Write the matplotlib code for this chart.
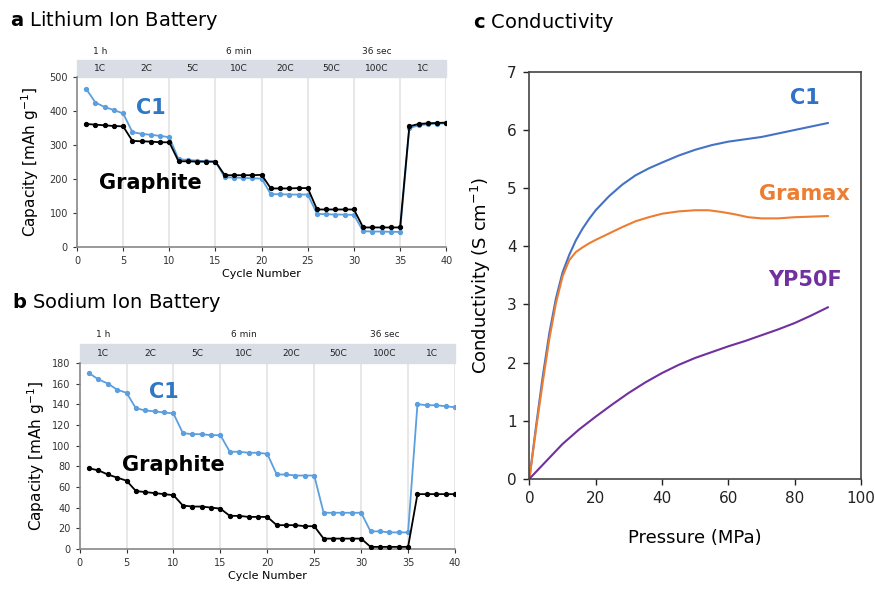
import matplotlib.pyplot as plt
import matplotlib.transforms as mtransforms
from matplotlib.patches import Rectangle

# rate capability data (cycle number 1..40)
cycles = list(range(1, 41))

li_c1 = [465, 425, 412, 403, 393, 338, 333, 330, 327, 323,
         258, 256, 254, 252, 251, 205, 204, 203, 202, 201,
         155, 155, 154, 154, 154, 97, 96, 95, 95, 94,
         46, 45, 45, 44, 44, 350, 358, 361, 363, 364]
li_graphite = [362, 360, 358, 356, 355, 312, 311, 310, 308, 308,
               252, 252, 251, 251, 251, 211, 211, 211, 211, 212,
               172, 172, 172, 173, 173, 110, 110, 110, 110, 110,
               57, 57, 57, 57, 57, 355, 362, 364, 365, 366]

na_c1 = [170, 164, 160, 154, 151, 136, 134, 133, 132, 131,
         112, 111, 111, 110, 110, 94, 94, 93, 93, 92,
         72, 72, 71, 71, 71, 35, 35, 35, 35, 35,
         17, 17, 16, 16, 16, 140, 139, 139, 138, 137]
na_graphite = [78, 76, 72, 69, 66, 56, 55, 54, 53, 52,
               42, 41, 41, 40, 39, 32, 32, 31, 31, 31,
               23, 23, 23, 22, 22, 10, 10, 10, 10, 10,
               2, 2, 2, 2, 2, 53, 53, 53, 53, 53]

rate_labels = ["1C", "2C", "5C", "10C", "20C", "50C", "100C", "1C"]
time_labels = ["1 h", "6 min", "36 sec"]

# conductivity vs pressure
c1_p = [0, 2, 4, 6, 8, 10, 12, 14, 16, 18, 20, 24, 28, 32, 36, 40,
        45, 50, 55, 60, 65, 70, 75, 80, 85, 90]
c1_s = [0, 0.9, 1.75, 2.5, 3.1, 3.55, 3.85, 4.1, 4.3, 4.47, 4.62, 4.86,
        5.06, 5.22, 5.34, 5.44, 5.56, 5.66, 5.74, 5.8, 5.84, 5.88, 5.94,
        6.0, 6.06, 6.12]
gramax_p = [0, 2, 4, 6, 8, 10, 12, 14, 16, 18, 20, 24, 28, 32, 36, 40,
            45, 50, 54, 58, 62, 66, 70, 75, 80, 85, 90]
gramax_s = [0, 0.85, 1.65, 2.4, 3.02, 3.48, 3.76, 3.9, 3.98, 4.05, 4.11,
            4.22, 4.33, 4.43, 4.5, 4.56, 4.6, 4.62, 4.62, 4.59, 4.55, 4.5,
            4.48, 4.48, 4.5, 4.51, 4.52]
yp_p = [0, 5, 10, 15, 20, 25, 30, 35, 40, 45, 50, 55, 60, 65, 70, 75, 80, 85, 90]
yp_s = [0, 0.3, 0.6, 0.85, 1.07, 1.28, 1.48, 1.66, 1.82, 1.96, 2.08, 2.18,
        2.28, 2.37, 2.47, 2.57, 2.68, 2.81, 2.95]

C1_LIGHT = "#5B9FDF"
C1_TEXT = "#2F78C4"
GRID = "#E3E3E3"
BAND = "#D8DDE6"


def rate_panel(ax, c1, graphite, ymax, ystep, c1_xy, gr_xy, ylabel_pad):
    for x in range(5, 41, 5):
        ax.axvline(x, color=GRID, lw=1.2, zorder=0)
    ax.plot(cycles, c1, "-o", color=C1_LIGHT, ms=2.8, lw=1.3, zorder=3)
    ax.plot(cycles, graphite, "-o", color="black", ms=2.8, lw=1.3, zorder=4)
    ax.set_xlim(0, 40)
    ax.set_ylim(0, ymax)
    ax.set_xticks(range(0, 41, 5))
    ax.set_yticks(range(0, ymax + 1, ystep))
    ax.tick_params(labelsize=7, colors="#333333", length=3, width=0.8)
    for s in ["top", "right"]:
        ax.spines[s].set_visible(False)
    for s in ["left", "bottom"]:
        ax.spines[s].set_color("#888888")
        ax.spines[s].set_linewidth(1.2)
    ax.set_xlabel("Cycle Number", fontsize=8, labelpad=2)
    ax.set_ylabel("Capacity [mAh g$^{\\mathregular{-1}}$]", fontsize=11,
                  labelpad=ylabel_pad)

    trans = mtransforms.blended_transform_factory(ax.transData, ax.transAxes)
    ax.add_patch(Rectangle((0, 1.0), 40, 0.1, transform=trans, color=BAND,
                           clip_on=False, zorder=1))
    for i, lab in enumerate(rate_labels):
        ax.text(5 * i + 2.5, 1.05, lab, transform=trans, ha="center",
                va="center", fontsize=6.5, color="#222222")
    for i, lab in enumerate(time_labels):
        ax.text(15 * i + 2.5, 1.15, lab, transform=trans, ha="center",
                va="center", fontsize=6.5, color="#222222")

    ax.text(c1_xy[0], c1_xy[1], "C1", color=C1_TEXT, fontsize=15,
            fontweight="bold", ha="center", va="center")
    ax.text(gr_xy[0], gr_xy[1], "Graphite", color="black", fontsize=15,
            fontweight="bold", ha="center", va="center")


fig = plt.figure(figsize=(8.75, 5.89), dpi=100)

ax_a = fig.add_axes([0.088, 0.581, 0.422, 0.288])
rate_panel(ax_a, li_c1, li_graphite, 500, 100, (8, 410), (8, 188), 6)

ax_b = fig.add_axes([0.091, 0.068, 0.429, 0.316])
rate_panel(ax_b, na_c1, na_graphite, 180, 20, (9, 152), (10, 81), 4)

ax_c = fig.add_axes([0.605, 0.187, 0.379, 0.691])
ax_c.plot(c1_p, c1_s, color="#4472C4", lw=1.5)
ax_c.plot(gramax_p, gramax_s, color="#ED7D31", lw=1.5)
ax_c.plot(yp_p, yp_s, color="#7030A0", lw=1.5)
ax_c.set_xlim(0, 100)
ax_c.set_ylim(0, 7)
ax_c.set_xticks(range(0, 101, 20))
ax_c.set_yticks(range(0, 8))
ax_c.tick_params(labelsize=11, direction="out", length=4, width=1,
                 colors="#222222", pad=5)
for s in ax_c.spines.values():
    s.set_color("#444444")
    s.set_linewidth(1.2)
ax_c.set_xlabel("Pressure (MPa)", fontsize=13, labelpad=16)
ax_c.set_ylabel("Conductivity (S cm$^{\\mathregular{-1}}$)", fontsize=13,
                labelpad=10)
ax_c.text(83, 6.55, "C1", color="#2F72C8", fontsize=15, fontweight="bold",
          ha="center", va="center")
ax_c.text(83, 4.9, "Gramax", color="#ED7D31", fontsize=15, fontweight="bold",
          ha="center", va="center")
ax_c.text(83, 3.42, "YP50F", color="#7030A0", fontsize=15, fontweight="bold",
          ha="center", va="center")

fig.text(0.012, 0.965, r"$\bf{a}$ Lithium Ion Battery", fontsize=14,
         va="center", ha="left")
fig.text(0.014, 0.487, r"$\bf{b}$ Sodium Ion Battery", fontsize=14,
         va="center", ha="left")
fig.text(0.54, 0.962, r"$\bf{c}$ Conductivity", fontsize=14,
         va="center", ha="left")

fig.savefig("out.png", dpi=100, facecolor="white")
